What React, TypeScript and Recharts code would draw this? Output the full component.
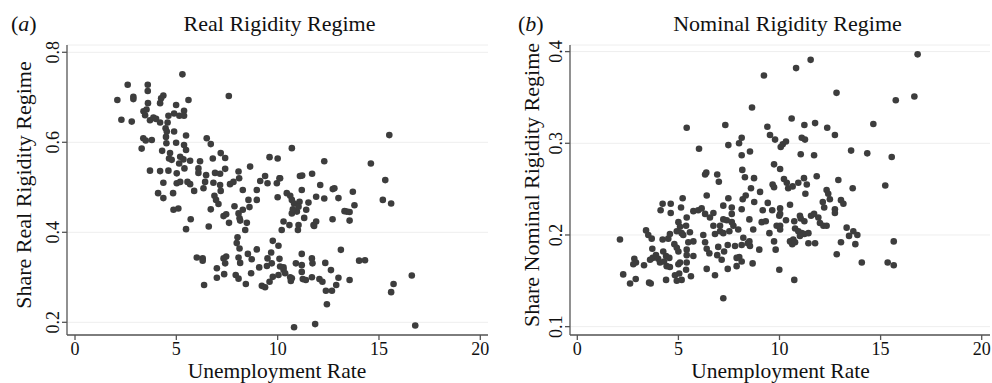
import React from 'react';
import { ScatterChart, Scatter, XAxis, YAxis, CartesianGrid } from 'recharts';

const FONT = '"Liberation Serif", "Times New Roman", Times, serif';
const DOT = '#3d3d3d';
const AXIS = '#555555';

const xTicks = [0, 5, 10, 15, 20];
const realTicks = [0.2, 0.4, 0.6, 0.8];
const nominalTicks = [0.1, 0.2, 0.3, 0.4];

const panelTitles = ['Real Rigidity Regime', 'Nominal Rigidity Regime'];
const panelLetters = ['a', 'b'];
const yLabels = ['Share Real Rigidity Regime', 'Share Nominal Rigidity Regime'];
const xLabel = 'Unemployment Rate';

// [unemployment rate, share real rigidity regime]
const realPoints: [number, number][] = [
  [5.30,0.751],[2.60,0.728],[3.59,0.728],[3.59,0.714],[2.09,0.694],[2.88,0.701],[2.88,0.696],[7.59,0.703],
  [4.36,0.704],[4.25,0.698],[4.20,0.687],[5.60,0.694],
  [3.60,0.687],[3.53,0.673],[3.38,0.669],[3.46,0.660],[3.70,0.649],[3.87,0.655],
  [4.99,0.683],[4.89,0.664],[5.15,0.659],[5.38,0.670],[5.38,0.659],
  [2.29,0.650],[2.80,0.646],[4.00,0.652],[4.20,0.644],
  [4.61,0.659],[4.57,0.644],[4.47,0.631],[4.53,0.624],[4.49,0.612],[4.89,0.624],[5.48,0.615],
  [3.37,0.609],[3.49,0.604],[3.79,0.605],[3.29,0.586],
  [6.50,0.609],[6.70,0.596],
  [4.51,0.598],[4.99,0.599],[5.38,0.594],[5.48,0.583],
  [4.30,0.581],[4.69,0.576],[4.64,0.564],[4.77,0.561],[5.19,0.568],[5.35,0.562],[5.68,0.559],[5.14,0.553],
  [10.70,0.587],
  [6.17,0.558],[6.80,0.564],[7.19,0.576],[7.41,0.565],
  [9.60,0.567],[10.00,0.564],[8.64,0.546],
  [3.70,0.537],[4.20,0.536],[4.61,0.537],[5.02,0.531],[5.40,0.542],[6.09,0.542],[6.09,0.532],[6.47,0.527],[6.91,0.532],[7.16,0.530],[7.41,0.541],[8.07,0.535],
  [9.38,0.525],[10.09,0.520],[11.10,0.525],
  [4.36,0.510],[5.02,0.509],[5.19,0.512],[5.55,0.512],[5.68,0.507],[6.42,0.512],[6.34,0.498],[6.83,0.510],[7.16,0.505],[7.65,0.507],[7.82,0.512],[8.10,0.520],[8.28,0.494],[8.97,0.494],[9.14,0.514],[9.50,0.509],[9.96,0.509],[10.12,0.520],[10.45,0.487],[10.62,0.481],[4.84,0.487],
  [7.19,0.492],[11.19,0.494],[12.10,0.505],[12.72,0.496],[12.80,0.498],[4.10,0.487],[4.36,0.476],[5.88,0.492],[6.88,0.481],[10.00,0.478],[11.90,0.479],[12.30,0.475],[13.00,0.476],
  [6.96,0.472],[7.08,0.463],[8.56,0.472],[8.61,0.456],[8.97,0.472],
  [10.70,0.472],[10.81,0.464],[11.08,0.468],[11.52,0.466],[10.70,0.442],[10.95,0.446],[11.03,0.457],[11.41,0.450],[11.31,0.432],[10.75,0.451],
  [7.87,0.458],[4.86,0.450],[5.10,0.453],[6.70,0.451],[7.33,0.436],[7.46,0.440],
  [8.07,0.442],[8.12,0.431],[8.15,0.426],[8.28,0.450],[8.48,0.421],[8.40,0.405],[7.60,0.421],
  [5.71,0.429],[5.48,0.407],[6.60,0.413],
  [10.29,0.424],[10.20,0.405],[10.58,0.416],[11.03,0.416],[11.00,0.405],[11.77,0.416],[11.90,0.424],[12.71,0.429],[13.41,0.446],[13.55,0.426],
  [8.02,0.389],[7.98,0.376],[8.12,0.364],[9.76,0.381],[10.04,0.370],[8.97,0.362],[13.12,0.361],
  [6.01,0.344],[6.30,0.342],[6.30,0.337],[7.33,0.342],[7.46,0.346],[7.41,0.331],
  [8.07,0.344],[8.15,0.332],[8.53,0.352],[8.72,0.340],
  [9.68,0.355],[9.50,0.342],[9.71,0.331],[10.09,0.341],[10.12,0.324],[9.47,0.325],[9.09,0.322],
  [11.19,0.352],[11.69,0.342],[11.72,0.331],[10.90,0.331],[11.19,0.327],[11.19,0.312],[10.29,0.316],[10.37,0.309],[12.35,0.332],[12.63,0.316],
  [7.00,0.320],[7.36,0.307],[7.00,0.299],[7.93,0.305],[8.07,0.297],[8.43,0.285],[8.69,0.309],[6.37,0.283],
  [9.22,0.281],[9.38,0.278],[9.60,0.290],[9.76,0.301],[10.04,0.305],[10.62,0.300],[10.65,0.292],[11.24,0.296],[11.39,0.294],[11.69,0.300],[12.06,0.296],[12.21,0.290],[13.00,0.299],[12.89,0.283],[12.68,0.270],[12.38,0.270],[12.43,0.240],[13.55,0.294],
  [10.29,0.322],[10.70,0.298],
  [10.81,0.189],[11.85,0.196],
  [15.51,0.616],[12.30,0.558],[14.60,0.553],[11.21,0.526],[11.70,0.530],[15.31,0.516],[13.71,0.490],[15.19,0.472],[15.60,0.464],[13.79,0.460],[13.30,0.447],[13.55,0.445],[11.80,0.414],
  [14.02,0.337],[14.31,0.338],[16.62,0.304],[15.72,0.285],[15.60,0.267],[16.79,0.193],
];

// [unemployment rate, share nominal rigidity regime]
const nominalPoints: [number, number][] = [
  [16.83,0.397],[11.54,0.391],[10.82,0.382],[9.23,0.374],[12.82,0.355],[15.75,0.347],[16.67,0.351],[8.64,0.339],
  [5.41,0.317],[7.32,0.320],[10.60,0.327],[9.40,0.318],[11.23,0.320],[11.76,0.322],[12.36,0.317],[14.64,0.321],
  [9.53,0.309],[9.78,0.304],[12.74,0.309],[6.02,0.294],[7.47,0.298],[8.00,0.300],[8.13,0.306],[8.13,0.287],[8.54,0.291],
  [11.10,0.306],[11.26,0.304],[10.06,0.296],[10.16,0.299],[10.32,0.302],[11.05,0.288],[11.71,0.287],[13.54,0.292],[14.34,0.289],[15.55,0.285],
  [6.32,0.266],[6.38,0.268],[6.92,0.266],[7.00,0.258],[5.21,0.240],[6.40,0.243],[7.47,0.240],
  [9.73,0.277],[8.16,0.271],[8.29,0.263],[8.74,0.262],[8.59,0.251],[9.04,0.247],[9.66,0.255],[9.73,0.252],[10.03,0.272],
  [8.33,0.243],[8.18,0.239],[8.75,0.236],[9.42,0.235],[9.17,0.227],[9.64,0.227],[9.12,0.214],[9.32,0.215],[9.50,0.202],[9.73,0.193],[9.86,0.210],[9.99,0.221],[8.70,0.206],
  [4.22,0.234],[4.62,0.234],[4.12,0.227],[4.62,0.224],[5.13,0.230],
  [5.74,0.226],[5.98,0.227],[6.15,0.229],[6.32,0.223],[6.56,0.219],[6.73,0.224],[7.22,0.232],[7.64,0.230],[7.64,0.223],[7.22,0.217],[7.39,0.216],[7.06,0.210],[7.64,0.214],[7.72,0.210],[7.96,0.206],[7.52,0.204],
  [5.41,0.219],[5.38,0.210],[5.00,0.214],[5.08,0.209],[4.92,0.204],[5.16,0.202],[5.24,0.200],[5.57,0.203],[5.74,0.193],[5.49,0.192],[5.41,0.184],
  [6.23,0.200],[6.32,0.192],[6.40,0.185],[6.73,0.210],[6.81,0.201],[7.06,0.204],[7.22,0.202],
  [6.97,0.187],[7.44,0.189],[7.80,0.188],[8.13,0.189],[8.43,0.191],[8.54,0.188],[9.00,0.184],[6.53,0.180],[6.92,0.178],[7.14,0.173],[7.26,0.182],[7.88,0.175],[8.01,0.176],[8.13,0.171],[7.88,0.166],[8.67,0.169],[6.40,0.163],[6.81,0.156],[7.44,0.163],[7.22,0.131],[9.99,0.162],
  [2.11,0.195],[3.40,0.205],[3.51,0.200],[3.68,0.196],[4.22,0.195],[4.50,0.196],[4.58,0.201],[3.71,0.185],[4.25,0.182],[4.39,0.177],[4.55,0.175],[4.80,0.190],[4.92,0.186],[5.00,0.182],
  [2.82,0.174],[2.90,0.170],[2.77,0.168],[3.30,0.167],
  [3.60,0.173],[3.73,0.175],[3.89,0.178],[4.00,0.174],[4.09,0.170],[4.29,0.171],[4.42,0.166],[4.58,0.165],[5.00,0.168],[5.08,0.170],[5.41,0.178],[5.74,0.177],[5.41,0.170],[5.38,0.162],[5.62,0.155],[5.04,0.158],[4.83,0.156],[4.92,0.150],[5.16,0.151],[4.39,0.151],[3.55,0.148],[3.63,0.147],[2.61,0.147],[2.89,0.152],[2.27,0.157],
  [8.13,0.228],[8.51,0.217],[8.21,0.197],[8.51,0.193],
  [10.22,0.261],[10.36,0.257],[10.43,0.251],[10.65,0.253],[10.93,0.257],[11.21,0.262],[11.35,0.255],[11.84,0.264],[12.91,0.260],[13.62,0.251],[15.23,0.254],
  [11.28,0.245],[12.33,0.249],[12.41,0.245],[12.49,0.239],[12.14,0.236],[12.21,0.230],[13.04,0.238],[13.16,0.234],[12.74,0.228],[12.74,0.224],[10.52,0.233],[10.03,0.229],[10.03,0.223],
  [10.03,0.210],[10.03,0.206],[10.32,0.216],[10.73,0.215],[11.01,0.221],[11.05,0.218],[11.23,0.215],[11.56,0.221],[11.71,0.223],[11.92,0.219],[12.00,0.213],[12.17,0.210],[12.33,0.210],[10.77,0.207],[10.93,0.204],
  [11.10,0.202],[11.23,0.201],[11.43,0.202],[11.01,0.199],[10.52,0.193],[10.68,0.195],[10.63,0.190],[10.77,0.192],[11.43,0.191],[11.76,0.191],
  [13.32,0.208],[13.65,0.204],[13.85,0.200],[13.44,0.199],[13.04,0.192],[13.75,0.190],[15.65,0.193],[12.83,0.179],[14.07,0.170],[15.35,0.170],[15.65,0.167],[10.73,0.151],[9.81,0.184],
];

const toData = (pts: [number, number][]) => pts.map(([x, y]) => ({ x, y }));

const XTick = (props: any) => {
  const { x, y, payload } = props;
  return (
    <text x={x} y={y + 12.5} textAnchor="middle" fontFamily={FONT} fontSize={18} fill="#111">
      {payload.value}
    </text>
  );
};

const YTick = (props: any) => {
  const { x, y, payload } = props;
  const bx = x - 0.5;
  return (
    <text x={bx} y={y} transform={`rotate(-90 ${bx} ${y})`} textAnchor="middle" fontFamily={FONT} fontSize={18} fill="#111">
      {payload.value}
    </text>
  );
};

const Dot = (props: any) => {
  const { cx, cy } = props;
  if (cx == null || cy == null) return null;
  return <circle cx={cx} cy={cy} r={3.3} fill={DOT} />;
};

type PanelProps = {
  data: { x: number; y: number }[];
  left: number;
  width: number;
  marginLeft: number;
  xDomain: [number, number];
  yDomain: [number, number];
  yTicks: number[];
};

const Panel = ({ data, left, width, marginLeft, xDomain, yDomain, yTicks }: PanelProps) => (
  <div style={{ position: 'absolute', left, top: 0 }}>
    <ScatterChart width={width} height={383} margin={{ top: 45, right: 2, bottom: 8, left: marginLeft }}>
      <CartesianGrid vertical={false} stroke="#eeeeee" strokeWidth={1} />
      <XAxis
        dataKey="x"
        type="number"
        domain={xDomain}
        ticks={xTicks}
        allowDataOverflow
        height={40}
        tickSize={5}
        stroke={AXIS}
        strokeWidth={1.3}
        tick={<XTick />}
      />
      <YAxis
        dataKey="y"
        type="number"
        domain={yDomain}
        ticks={yTicks}
        allowDataOverflow
        width={60}
        tickSize={5}
        stroke={AXIS}
        strokeWidth={1.3}
        tick={<YTick />}
      />
      <Scatter data={data} shape={<Dot />} isAnimationActive={false} />
    </ScatterChart>
  </div>
);

export default function App() {
  const textStyle = { fontFamily: FONT, fontSize: 22, fill: '#111' } as const;
  const xLabelStyle = { fontFamily: FONT, fontSize: 21.5, fill: '#111' } as const;
  return (
    <div style={{ position: 'absolute', left: 0, top: 0, width: 992, height: 383, background: '#fff' }}>
      <Panel
        data={toData(realPoints)}
        left={0}
        width={490}
        marginLeft={7}
        xDomain={[-0.395, 20.38]}
        yDomain={[0.1718, 0.8162]}
        yTicks={realTicks}
      />
      <Panel
        data={toData(nominalPoints)}
        left={490}
        width={502}
        marginLeft={20}
        xDomain={[-0.361, 20.41]}
        yDomain={[0.0909, 0.4072]}
        yTicks={nominalTicks}
      />
      <svg width={992} height={383} style={{ position: 'absolute', left: 0, top: 0, pointerEvents: 'none' }}>
        <text x={11} y={31} {...textStyle}>(<tspan fontStyle="italic">{panelLetters[0]}</tspan>)</text>
        <text x={279.5} y={31} textAnchor="middle" {...textStyle}>{panelTitles[0]}</text>
        <text x={518} y={31} {...textStyle}>(<tspan fontStyle="italic">{panelLetters[1]}</tspan>)</text>
        <text x={787.5} y={31} textAnchor="middle" {...textStyle}>{panelTitles[1]}</text>
        <text x={277} y={377.5} textAnchor="middle" {...xLabelStyle}>{xLabel}</text>
        <text x={780.5} y={377.5} textAnchor="middle" {...xLabelStyle}>{xLabel}</text>
        <text x={31} y={185} textAnchor="middle" transform="rotate(-90 31 185)" {...textStyle}>{yLabels[0]}</text>
        <text x={539} y={185} textAnchor="middle" transform="rotate(-90 539 185)" {...textStyle}>{yLabels[1]}</text>
      </svg>
    </div>
  );
}
